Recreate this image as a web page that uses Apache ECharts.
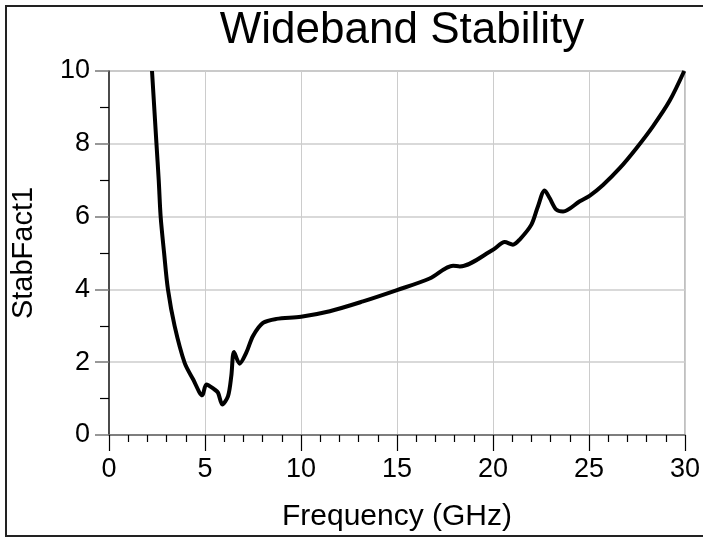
<!DOCTYPE html>
<html>
<head>
<meta charset="utf-8">
<script src="https://cdn.jsdelivr.net/npm/echarts@6/dist/echarts.min.js"></script>
<style>
html,body{margin:0;padding:0;background:#fff;}
#c{width:703px;height:537px;}
</style>
</head>
<body>
<div id="c"></div>
<script>
var freqGHz = [2.24, 2.47, 2.59, 2.69, 2.87, 3.07, 3.42, 3.94, 4.38, 4.86, 5.07, 5.5, 5.68, 5.9, 6.2, 6.37, 6.51, 6.8, 7.15, 7.5, 8.02, 8.72, 10.0, 11.5, 13.23, 15.0, 16.7, 17.92, 18.27, 20.0, 20.61, 21.04, 21.39, 22.0, 22.34, 22.69, 22.95, 23.3, 23.65, 24.52, 25.03, 25.73, 26.6, 27.47, 28.33, 29.2, 29.96];
var stabFact1 = [10, 8.02, 7.0, 6.0, 5.0, 4.0, 2.99, 1.98, 1.53, 1.09, 1.39, 1.25, 1.16, 0.84, 1.07, 1.62, 2.28, 1.96, 2.26, 2.72, 3.08, 3.19, 3.25, 3.40, 3.67, 3.98, 4.30, 4.65, 4.63, 5.09, 5.30, 5.23, 5.37, 5.78, 6.28, 6.72, 6.51, 6.19, 6.14, 6.42, 6.57, 6.87, 7.33, 7.88, 8.48, 9.18, 10];
var xTicks = [0, 5, 10, 15, 20, 25, 30];
var yTicks = [0, 2, 4, 6, 8, 10];

var seriesData = freqGHz.map(function (f, i) { return [f, stabFact1[i]]; });
var FONT = 'Liberation Sans, Arial, sans-serif';

var chart = echarts.init(document.getElementById('c'), null, {renderer: 'canvas'});
chart.setOption({
  backgroundColor: '#fff',
  animation: false,
  title: {
    text: 'Wideband Stability',
    left: 397, top: 4, textAlign: 'center',
    textStyle: {fontFamily: FONT, fontSize: 44, fontWeight: 'normal', color: '#000'}
  },
  grid: {left: 109, right: 17, top: 71, bottom: 101, show: true, borderColor: '#888', borderWidth: 1, backgroundColor: 'transparent'},
  xAxis: {
    type: 'value', min: xTicks[0], max: xTicks[xTicks.length - 1], interval: 5,
    name: 'Frequency (GHz)', nameLocation: 'middle', nameGap: 67,
    nameTextStyle: {fontFamily: FONT, fontSize: 30, color: '#000'},
    axisLine: {show: true, lineStyle: {color: '#666', width: 1.5}},
    axisTick: {show: true, length: 16, lineStyle: {color: '#000', width: 1.2}},
    minorTick: {show: true, splitNumber: 5, length: 7, lineStyle: {color: '#000', width: 1.2}},
    splitLine: {show: true, lineStyle: {color: '#ccc', width: 1}},
    axisLabel: {fontFamily: FONT, fontSize: 27, color: '#000', margin: 21}
  },
  yAxis: {
    type: 'value', min: yTicks[0], max: yTicks[yTicks.length - 1], interval: 2,
    name: 'StabFact1', nameLocation: 'middle', nameGap: 71, nameRotate: 90,
    nameTextStyle: {fontFamily: FONT, fontSize: 29, color: '#000'},
    axisLine: {show: true, lineStyle: {color: '#222', width: 1.5}},
    axisTick: {show: true, length: 14, lineStyle: {color: '#777', width: 1.5}},
    minorTick: {show: true, splitNumber: 2, length: 9, lineStyle: {color: '#000', width: 1.2}},
    splitLine: {show: true, lineStyle: {color: '#ccc', width: 1.5}},
    axisLabel: {fontFamily: FONT, fontSize: 27, color: '#000', margin: 19}
  },
  series: [{
    type: 'line', data: seriesData, smooth: 0.3, showSymbol: false, clip: true,
    lineStyle: {color: '#000', width: 4}
  }],
  graphic: [{
    type: 'rect', shape: {x: 6, y: 6, width: 710, height: 530},
    style: {fill: 'none', stroke: '#222', lineWidth: 2}, z: 100, silent: true
  }]
});
</script>
</body>
</html>
